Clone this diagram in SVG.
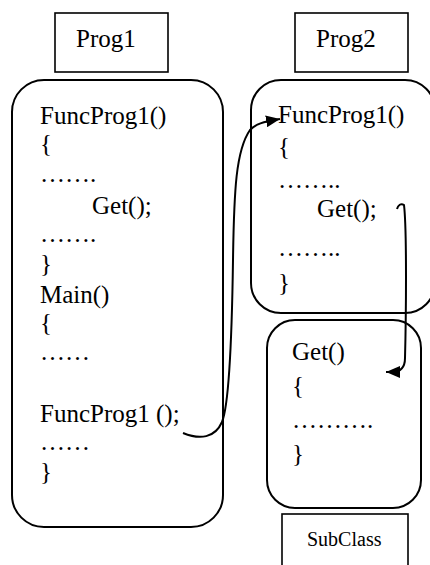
<svg xmlns="http://www.w3.org/2000/svg" width="430" height="565" viewBox="0 0 430 565">
<style>
text{font-family:"Liberation Serif","Times New Roman",serif;font-size:25px;fill:#000}
.small{font-size:20px}
.box{fill:#fff;stroke:#000;stroke-width:1.6}
.rbox{fill:#fff;stroke:#000;stroke-width:2}
.conn{fill:none;stroke:#000;stroke-width:2}
</style>
<defs>
<marker id="arr" markerUnits="userSpaceOnUse" markerWidth="14" markerHeight="12" viewBox="0 0 14 12" refX="14" refY="6" orient="auto">
<path d="M0,0 L14,6 L0,12 z" fill="#000"/>
</marker>
</defs>
<rect width="430" height="565" fill="#fff"/>
<g id="prog1-label">
<rect class="box" x="55" y="13" width="113" height="59"/>
<text x="76" y="47">Prog1</text>
</g>
<g id="prog2-label">
<rect class="box" x="295" y="13" width="113" height="59"/>
<text x="316" y="47">Prog2</text>
</g>
<g id="prog1">
<rect class="rbox" x="12" y="80" width="211" height="447" rx="32" ry="32"/>
<text x="40" y="124">FuncProg1()</text>
<text x="40" y="152">{</text>
<text x="40" y="182">…….</text>
<text x="92" y="214">Get();</text>
<text x="40" y="242">…….</text>
<text x="40" y="272">}</text>
<text x="40" y="303">Main()</text>
<text x="40" y="331">{</text>
<text x="40" y="360">……</text>
<text x="40" y="422">FuncProg1 ();</text>
<text x="40" y="450">……</text>
<text x="40" y="480">}</text>
</g>
<g id="prog2">
<rect class="rbox" x="251" y="80" width="184" height="233" rx="30" ry="30"/>
<text x="278" y="123">FuncProg1()</text>
<text x="278" y="155">{</text>
<text x="278" y="188">……..</text>
<text x="317" y="217">Get();</text>
<text x="278" y="256">……..</text>
<text x="278" y="291">}</text>
</g>
<g id="get">
<rect class="rbox" x="267" y="320" width="154" height="188" rx="28" ry="28"/>
<text x="292" y="360">Get()</text>
<text x="292" y="394">{</text>
<text x="292" y="428">……….</text>
<text x="292" y="462">}</text>
</g>
<g id="subclass">
<rect class="box" x="282" y="514" width="126" height="60"/>
<text class="small" x="307" y="546">SubClass</text>
</g>
<g id="connectors">
<path class="conn" d="M183,433 C200,440 215,438 222,422 C229,405 232,330 233,260 C234,190 236,150 250,130 C256,124 262,122 280,119" marker-end="url(#arr)"/>
<path class="conn" d="M397,209 C398,205 401,203 404,205 C407,230 406,320 405,358 C405,368 400,372 392,372 L386,372" marker-end="url(#arr)"/>
</g>
</svg>
